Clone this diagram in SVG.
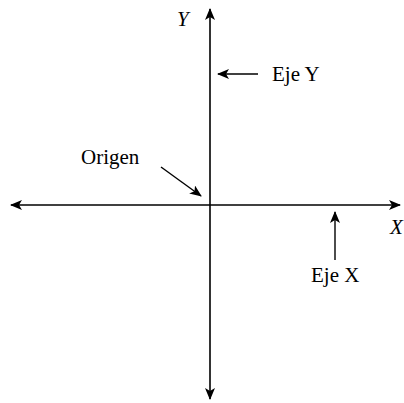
<svg xmlns="http://www.w3.org/2000/svg" width="404" height="403" viewBox="0 0 404 403">
<style>
.ax{stroke:#000;stroke-width:1.6;fill:none}
.lb{stroke:#000;stroke-width:1.4;fill:none}
text{font-family:"Liberation Serif","DejaVu Serif",serif;font-size:21px;fill:#000}
.it{font-style:italic}
</style>
<defs>
<marker id="ah" viewBox="0 0 12 10" refX="11" refY="5" markerWidth="12" markerHeight="10" markerUnits="userSpaceOnUse" orient="auto">
<path d="M0,0 L12,5 L0,10 L3,5 Z" fill="#000"/>
</marker>
</defs>
<g id="connectors">
<line class="ax" x1="210" y1="205" x2="210" y2="9" marker-end="url(#ah)"/>
<line class="ax" x1="210" y1="205" x2="210" y2="399" marker-end="url(#ah)"/>
<line class="ax" x1="210" y1="205" x2="11" y2="205" marker-end="url(#ah)"/>
<line class="ax" x1="210" y1="205" x2="400" y2="205" marker-end="url(#ah)"/>
<line class="lb" x1="258" y1="74" x2="218" y2="74" marker-end="url(#ah)"/>
<line class="lb" x1="161" y1="167" x2="201" y2="196" marker-end="url(#ah)"/>
<line class="lb" x1="335" y1="260" x2="335" y2="212" marker-end="url(#ah)"/>
</g>
<g id="label-y"><text class="it" x="177" y="26">Y</text></g>
<g id="label-x"><text class="it" x="390" y="234">X</text></g>
<g id="eje-y"><text x="272" y="81">Eje Y</text></g>
<g id="origen"><text x="81" y="164">Origen</text></g>
<g id="eje-x"><text x="311" y="282">Eje X</text></g>
</svg>
